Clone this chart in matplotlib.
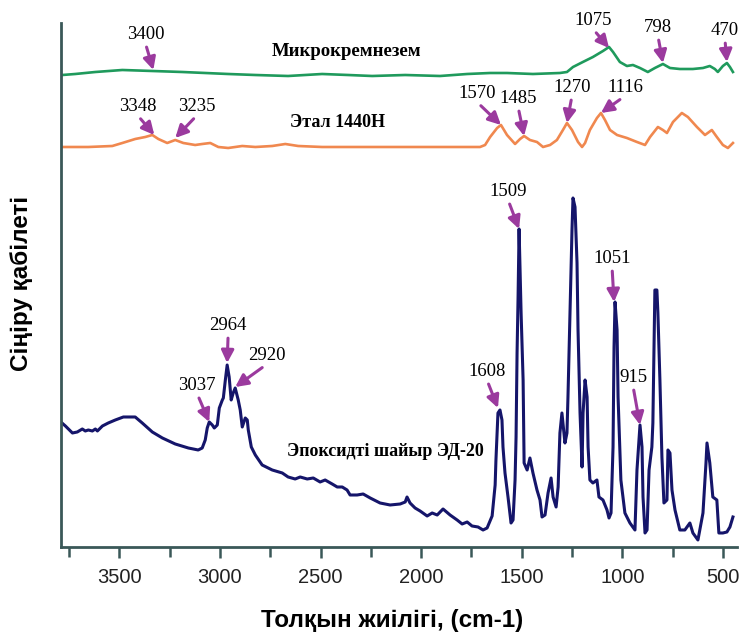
import matplotlib
matplotlib.use("Agg")
import matplotlib.pyplot as plt
from matplotlib.ticker import MultipleLocator

# wavenumber (cm-1) and intensity (arbitrary units, spectra already stacked)
silica_wn = [3783, 3719, 3619, 3485, 3336, 3187, 3073, 2959, 2824, 2661, 2492, 2363, 2243,
             2079, 1906, 1771, 1657, 1573, 1444, 1310, 1275, 1245, 1196, 1146, 1096, 1066,
             1046, 1012, 977, 947, 912, 873, 838, 798, 763, 714, 649, 599, 565, 540, 525,
             500, 480, 465, 450]
silica_int = [472, 473, 475, 477, 476, 475, 474, 473, 472, 471, 473, 472, 471,
              472, 471, 473, 474, 474, 473, 474, 475, 480, 485, 490, 496, 500,
              495, 485, 481, 482, 479, 475, 479, 483, 479, 478, 478, 479, 481, 478, 475,
              481, 484, 480, 475]

etal_wn = [3783, 3654, 3535, 3485, 3421, 3371, 3336, 3306, 3262, 3222, 3182, 3123, 3088,
           3048, 3008, 2959, 2889, 2824, 2740, 2675, 2611, 2492, 2328, 2164, 1906, 1707,
           1682, 1657, 1622, 1603, 1573, 1533, 1508, 1488, 1459, 1424, 1394, 1359, 1325,
           1295, 1275, 1250, 1220, 1200, 1185, 1161, 1126, 1106, 1086, 1061, 1026, 977,
           927, 887, 862, 823, 798, 778, 748, 704, 674, 629, 589, 555, 530, 500, 475, 450]
etal_int = [400, 400, 401, 404, 408, 410, 412, 408, 404, 407, 404, 402, 403,
            404, 400, 399, 401, 400, 401, 403, 401, 400, 400, 400, 400, 400,
            402, 410, 419, 422, 412, 403, 408, 411, 407, 405, 400, 402, 407,
            417, 424, 417, 405, 400, 404, 417, 429, 434, 427, 417, 412, 409,
            405, 402, 410, 420, 417, 414, 425, 434, 430, 420, 412, 417, 410, 402, 399, 404]

epoxy_wn = [3785, 3768, 3733, 3709, 3684, 3669, 3654, 3634, 3619, 3609, 3584, 3555, 3520,
            3480, 3435, 3421, 3386, 3336, 3286, 3222, 3157, 3108, 3088, 3073, 3063, 3053,
            3038, 3028, 3013, 3003, 2988, 2983, 2973, 2964, 2954, 2944, 2934, 2924, 2909,
            2899, 2889, 2874, 2864, 2859, 2844, 2824, 2790, 2740, 2690, 2661, 2626, 2601,
            2566, 2536, 2502, 2477, 2442, 2417, 2392, 2368, 2353, 2318, 2288, 2253, 2204,
            2154, 2104, 2079, 2070, 2055, 2030, 2005, 1970, 1945, 1920, 1891, 1856, 1821,
            1796, 1771, 1747, 1717, 1692, 1672, 1647, 1632, 1628, 1618, 1608, 1598, 1593,
            1583, 1568, 1553, 1543, 1533, 1528, 1523, 1518, 1513, 1503, 1493, 1488, 1473,
            1459, 1444, 1424, 1409, 1399, 1384, 1369, 1354, 1344, 1329, 1319, 1310, 1300,
            1295, 1285, 1275, 1270, 1260, 1250, 1245, 1235, 1225, 1220, 1210, 1200, 1195,
            1185, 1175, 1170, 1161, 1146, 1126, 1116, 1096, 1076, 1066, 1056, 1046, 1041,
            1036, 1026, 1021, 1007, 987, 962, 937, 927, 912, 902, 897, 887, 877, 867, 853,
            848, 838, 828, 823, 813, 803, 793, 778, 773, 763, 753, 738, 714, 689, 664, 649,
            624, 599, 584, 579, 565, 550, 530, 520, 500, 480, 465, 450]
epoxy_int = [124, 121, 114, 115, 118, 116, 117, 116, 118, 116, 121, 124, 127,
             130, 130, 130, 124, 115, 109, 103, 99, 97, 99, 107, 119, 125,
             122, 119, 122, 139, 147, 149, 167, 182, 170, 147, 154, 159, 147,
             137, 120, 129, 127, 117, 100, 92, 82, 77, 74, 70, 68, 70,
             68, 69, 65, 67, 63, 60, 60, 57, 52, 52, 53, 49, 44,
             42, 43, 45, 50, 44, 39, 36, 31, 34, 32, 38, 32, 27,
             23, 25, 21, 20, 17, 19, 31, 62, 87, 134, 137, 127, 100,
             74, 50, 24, 27, 67, 110, 194, 250, 318, 234, 167, 84, 77,
             89, 74, 57, 47, 30, 32, 54, 69, 50, 40, 60, 114, 134,
             124, 104, 114, 150, 234, 317, 349, 340, 284, 217, 134, 80, 134,
             167, 150, 100, 67, 64, 67, 50, 47, 37, 29, 34, 100, 200,
             245, 217, 150, 67, 34, 24, 17, 77, 122, 100, 50, 14, 17, 77, 100,
             124, 257, 257, 234, 167, 90, 44, 47, 97, 94, 57, 37, 17, 17, 24, 14,
             7, 34, 84, 104, 84, 50, 47, 14, 14, 15, 20, 30]

# peak labels: text, peak wavenumber, intensity at arrow tip, text offset (px)
peak_labels = ["3400", "1075", "798", "470",
               "3348", "3235", "1570", "1485", "1270", "1116",
               "3037", "2964", "2920", "1608", "1509", "1051", "915"]
peak_wn = [3331, 1066, 798, 480,
           3326, 3222, 1603, 1488, 1275, 1106,
           3053, 2964, 2924, 1618, 1513, 1041, 912]
peak_int = [477, 499, 484, 485,
            412, 409, 422, 411, 424, 434,
            125, 184, 160, 139, 318, 245, 122]
label_dx = [-8, -16, -5, -2, -17, 22, -24, -6, 5, 24, -12, 1, 32, -11, -11, -2, -7]
label_dy = [27, 19, 27, 23, 20, 23, 23, 29, 27, 17, 28, 29, 23, 28, 29, 35, 39]

spectra_names = ["Микрокремнезем", "Этал 1440Н", "Эпоксидті шайыр ЭД-20"]

serif = "Liberation Serif"
sans = "Liberation Sans"
axis_col = "#3a5858"
arrow_col = "#9b3a9e"

fig = plt.figure(figsize=(7.4, 6.37), dpi=100)
ax = fig.add_axes([0.0824, 0.1413, 0.9135, 0.8226])

ax.plot(silica_wn, silica_int, color="#1f9a5c", lw=1.9)
ax.plot(etal_wn, etal_int, color="#f0884f", lw=1.9)
ax.plot(epoxy_wn, epoxy_int, color="#15156a", lw=2.2)

ax.set_xlim(3790, 430)
ax.set_ylim(0, 524)

ax.text(2370, 495, spectra_names[0], family=serif, fontweight="bold", fontsize=13.5,
        ha="center", va="center")
ax.text(2415, 424, spectra_names[1], family=serif, fontweight="bold", fontsize=13,
        ha="center", va="center")
ax.text(2180, 95, spectra_names[2], family=serif, fontweight="bold", fontsize=13,
        ha="center", va="center")

for lab, x, y, dx, dy in zip(peak_labels, peak_wn, peak_int, label_dx, label_dy):
    ax.annotate(lab, xy=(x, y), xytext=(dx, dy), textcoords="offset pixels",
                ha="center", va="bottom", family=serif, fontsize=13.5,
                annotation_clip=False,
                arrowprops=dict(arrowstyle="-|>,head_length=0.5,head_width=0.25",
                                color=arrow_col, lw=2.2, mutation_scale=15,
                                relpos=(0.5, 0), shrinkA=1, shrinkB=0))

for s in ["top", "right"]:
    ax.spines[s].set_visible(False)
for s in ["left", "bottom"]:
    ax.spines[s].set_color(axis_col)
    ax.spines[s].set_linewidth(2)

ax.set_yticks([])
ax.xaxis.set_major_locator(MultipleLocator(500))
ax.xaxis.set_minor_locator(MultipleLocator(250))
ax.tick_params(axis="x", which="both", direction="out", length=8, width=1.8,
               color=axis_col, pad=7)
ax.tick_params(axis="x", which="minor", length=7)
for t in ax.get_xticklabels():
    t.set_fontfamily(sans)
    t.set_fontsize(14.5)
    t.set_color("#222222")

fig.text(392 / 740, 1 - 620 / 637, "Толқын жиілігі, (cm-1)", family=sans,
         fontweight="bold", fontsize=17.5, ha="center", va="center")
fig.text(22 / 740, 1 - 283 / 637, "Сіңіру қабілеті", family=sans,
         fontweight="bold", fontsize=17.5, ha="center", va="center", rotation=90)

fig.savefig("out.png", dpi=100)
